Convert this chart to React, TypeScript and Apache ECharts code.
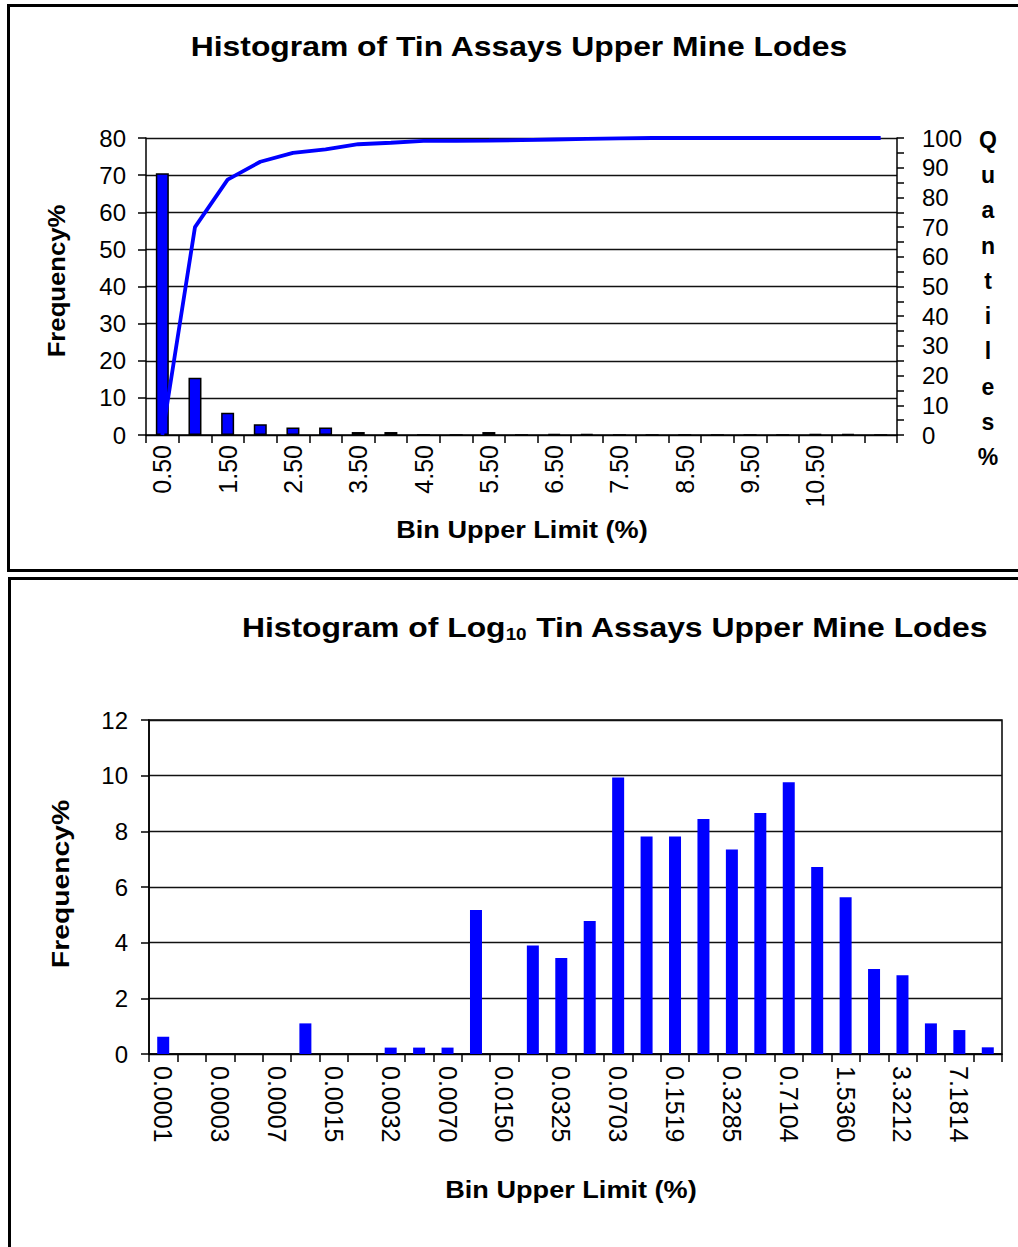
import React, { useEffect, useRef } from "react";
import * as echarts from "echarts";

// Upper chart: linear bins of tin assay grade
const linearBins = [
  "0.50", "1.00", "1.50", "2.00", "2.50", "3.00", "3.50", "4.00", "4.50", "5.00",
  "5.50", "6.00", "6.50", "7.00", "7.50", "8.00", "8.50", "9.00", "9.50", "10.00",
  "10.50", "11.00", "More",
];
const linearFrequency = [
  70.5, 15.4, 6.0, 2.9, 2.0, 2.0, 0.8, 0.8, 0, 0,
  0.8, 0, 0.3, 0.3, 0, 0, 0, 0, 0, 0,
  0.3, 0.3, 0,
];
const linearQuantiles = [
  0, 70, 86, 92, 95, 96.2, 97.9, 98.4, 99, 99,
  99.1, 99.3, 99.5, 99.7, 99.9, 100, 100, 100, 100, 100,
  100, 100, 100,
];

// Lower chart: log-spaced bins
const logBins = [
  "0.0001", "0.0002", "0.0003", "0.0005", "0.0007", "0.0010", "0.0015", "0.0022",
  "0.0032", "0.0047", "0.0070", "0.0102", "0.0150", "0.0221", "0.0325", "0.0478",
  "0.0703", "0.1033", "0.1519", "0.2234", "0.3285", "0.4831", "0.7104", "1.0446",
  "1.5360", "2.2586", "3.3212", "4.8837", "7.1814", "More",
];
const logFrequency = [
  0.62, 0, 0, 0, 0, 1.1, 0, 0, 0.23, 0.23,
  0.23, 5.17, 0, 3.9, 3.45, 4.78, 9.93, 7.81, 7.81, 8.44,
  7.35, 8.66, 9.76, 6.72, 5.63, 3.05, 2.83, 1.1, 0.86, 0.24,
];

const FONT = "'Liberation Sans', Arial, sans-serif";
const BLUE = "#0000FF";

const yTickLabel = { color: "#000", fontSize: 24, fontFamily: FONT };
const xTickLabel = { color: "#000", fontSize: 25, fontFamily: FONT };
const blackLine = { lineStyle: { color: "#000", width: 1.5 } };
const blackTick = { color: "#000", width: 1.5 };

// A bold caption drawn as a graphic text, widened horizontally along its own baseline
function caption(text: string, x: number, y: number, size: number, scaleX: number, rotation = 0) {
  return {
    type: "text",
    x,
    y,
    rotation,
    scaleX,
    scaleY: 1,
    silent: true,
    style: {
      text,
      font: `bold ${size}px ${FONT}`,
      fill: "#000",
      textAlign: "center",
      textVerticalAlign: "middle",
    },
  };
}

export default function App() {
  const ref = useRef<HTMLDivElement>(null);

  useEffect(() => {
    if (!ref.current) return;
    const chart = echarts.init(ref.current, undefined, { renderer: "svg" });

    const option: echarts.EChartsOption = {
      animation: false,
      backgroundColor: "#fff",
      grid: [
        { left: 146, top: 138, width: 751, height: 297, containLabel: false },
        {
          left: 149, top: 720, width: 853, height: 334, containLabel: false,
          show: true, borderColor: "#000", borderWidth: 1.5, backgroundColor: "transparent",
        },
      ],
      xAxis: [
        {
          type: "category",
          gridIndex: 0,
          data: linearBins,
          boundaryGap: true,
          axisLine: blackLine,
          axisTick: { show: true, interval: 0, length: 8, lineStyle: blackTick },
          axisLabel: {
            ...xTickLabel,
            rotate: 90,
            margin: 10,
            interval: (i: number) => i % 2 === 0 && i < linearBins.length - 1,
          },
        },
        {
          type: "category",
          gridIndex: 1,
          data: logBins,
          boundaryGap: true,
          axisLine: blackLine,
          axisTick: { show: true, interval: 0, length: 8, lineStyle: blackTick },
          axisLabel: {
            ...xTickLabel,
            rotate: -90,
            margin: 12,
            interval: (i: number) => i % 2 === 0 && i < logBins.length - 1,
          },
        },
      ],
      yAxis: [
        {
          type: "value",
          gridIndex: 0,
          min: 0,
          max: 80,
          interval: 10,
          axisLine: { show: true, ...blackLine },
          axisTick: { show: true, length: 8, lineStyle: blackTick },
          axisLabel: { ...yTickLabel, margin: 20 },
          splitLine: { show: true, lineStyle: { color: "#111", width: 1.3 } },
        },
        {
          type: "value",
          gridIndex: 0,
          position: "right",
          min: 0,
          max: 100,
          interval: 10,
          axisLine: { show: true, ...blackLine },
          axisTick: { show: true, length: 7, lineStyle: blackTick },
          minorTick: { show: true, splitNumber: 2, length: 7, lineStyle: blackTick },
          axisLabel: { ...yTickLabel, margin: 25 },
          splitLine: { show: false },
        },
        {
          type: "value",
          gridIndex: 1,
          min: 0,
          max: 12,
          interval: 2,
          axisLine: { show: true, ...blackLine },
          axisTick: { show: true, length: 8, lineStyle: blackTick },
          axisLabel: { ...yTickLabel, margin: 21 },
          splitLine: { show: true, lineStyle: { color: "#111", width: 1.3 } },
        },
      ],
      series: [
        {
          type: "bar",
          xAxisIndex: 0,
          yAxisIndex: 0,
          data: linearFrequency,
          barWidth: 13,
          itemStyle: { color: BLUE, borderColor: "#000", borderWidth: 1.5 },
          z: 2,
        },
        {
          type: "line",
          xAxisIndex: 0,
          yAxisIndex: 1,
          data: linearQuantiles,
          showSymbol: false,
          symbol: "none",
          lineStyle: { color: BLUE, width: 3.8 },
          z: 3,
        },
        {
          type: "bar",
          xAxisIndex: 1,
          yAxisIndex: 2,
          data: logFrequency,
          barWidth: 12,
          itemStyle: { color: BLUE },
          z: 2,
        },
      ],
      graphic: [
        // chart frames
        {
          type: "rect",
          shape: { x: 8.5, y: 5.5, width: 1030, height: 565 },
          style: { fill: "none", stroke: "#000", lineWidth: 3 },
          silent: true,
        },
        {
          type: "rect",
          shape: { x: 9.5, y: 578.5, width: 1030, height: 700 },
          style: { fill: "none", stroke: "#000", lineWidth: 3 },
          silent: true,
        },
        caption("Histogram of Tin Assays Upper Mine Lodes", 519, 46, 27, 1.18),
        {
          type: "text",
          x: 615,
          y: 627,
          scaleX: 1.18,
          silent: true,
          style: {
            text: "{m|Histogram of Log}{s|10}{m| Tin Assays Upper Mine Lodes}",
            fill: "#000",
            textAlign: "center",
            textVerticalAlign: "middle",
            rich: {
              m: { font: `bold 27px ${FONT}`, fill: "#000", lineHeight: 32 },
              s: { font: `bold 16px ${FONT}`, fill: "#000", lineHeight: 16, verticalAlign: "bottom" },
            },
          },
        },
        caption("Bin Upper Limit (%)", 522, 530, 24, 1.13),
        caption("Bin Upper Limit (%)", 571, 1190, 24, 1.13),
        caption("Frequency%", 57, 281, 24, 1.07, Math.PI / 2),
        caption("Frequency%", 61, 884, 24, 1.18, Math.PI / 2),
        {
          type: "text",
          x: 988,
          y: 122,
          silent: true,
          style: {
            text: "Q\nu\na\nn\nt\ni\nl\ne\ns\n%",
            font: `bold 23px ${FONT}`,
            lineHeight: 35.3,
            fill: "#000",
            textAlign: "center",
            textVerticalAlign: "top",
          },
        },
      ],
    };

    chart.setOption(option);
    return () => chart.dispose();
  }, []);

  return (
    <div
      ref={ref}
      style={{ position: "absolute", left: 0, top: 0, width: 1018, height: 1247, background: "#fff" }}
    />
  );
}
